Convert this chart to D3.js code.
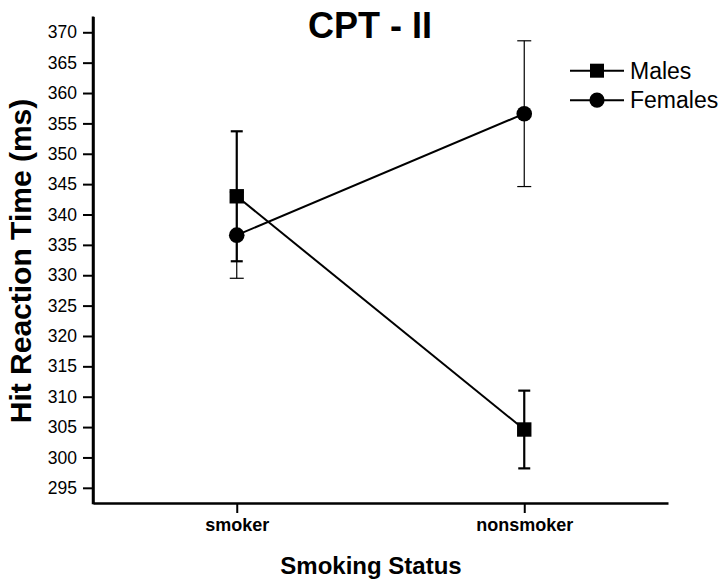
<!DOCTYPE html>
<html>
<head>
<meta charset="utf-8">
<script src="https://cdn.jsdelivr.net/npm/d3@7"></script>
<style>
  body { margin: 0; background: #fff; }
  text { font-family: "Liberation Sans", Arial, sans-serif; fill: #000; }
</style>
</head>
<body>
<svg id="chart" width="726" height="585"></svg>
<script>
const categories = ["smoker", "nonsmoker"];
const maleMeans = [343.0, 304.6];
const maleErr = [10.7, 6.4];
const femaleMeans = [336.6, 356.6];
const femaleErr = [7.1, 12.0];
const yTicks = d3.range(295, 371, 5);
const seriesNames = ["Males", "Females"];

const svg = d3.select("#chart");
const plotLeft = 93, plotRight = 668, plotTop = 16.5, plotBottom = 503;

const x = d3.scalePoint().domain(categories).range([plotLeft, plotRight]).padding(0.5);
const y = d3.scaleLinear().domain([292.5, 372.6]).range([plotBottom, plotTop]);

// axes
const yAxis = svg.append("g")
  .attr("transform", "translate(" + plotLeft + ",0)")
  .call(d3.axisLeft(y).tickValues(yTicks).tickSize(10).tickPadding(6).tickSizeOuter(0));
yAxis.selectAll("text").style("font-size", "17.5px");

const xAxis = svg.append("g")
  .attr("transform", "translate(0," + plotBottom + ")")
  .call(d3.axisBottom(x).tickSize(10).tickPadding(5).tickSizeOuter(0));
xAxis.selectAll("text").style("font-size", "18px").style("font-weight", "bold");

svg.selectAll(".domain").attr("stroke", "#000").attr("stroke-width", 2.5);
svg.selectAll(".tick line").attr("stroke", "#000").attr("stroke-width", 2);

// extend y domain line to meet the x axis at the corner
svg.append("line").attr("x1", plotLeft).attr("x2", plotLeft).attr("y1", plotTop).attr("y2", plotBottom + 1.2)
  .attr("stroke", "#000").attr("stroke-width", 2.5);

const series = [
  { name: "Females", means: femaleMeans, err: femaleErr, shape: "circle", ew: 1.2, cap: 7 },
  { name: "Males", means: maleMeans, err: maleErr, shape: "square", ew: 2.2, cap: 6 }
];

const line = d3.line().x((d, i) => x(categories[i])).y(d => y(d));

series.forEach(s => {
  const g = svg.append("g");
  g.append("path")
    .attr("d", line(s.means))
    .attr("fill", "none").attr("stroke", "#000").attr("stroke-width", 2);

  s.means.forEach((m, i) => {
    const cx = x(categories[i]);
    const lo = y(m - s.err[i]), hi = y(m + s.err[i]);
    g.append("line").attr("x1", cx).attr("x2", cx).attr("y1", lo).attr("y2", hi)
      .attr("stroke", "#000").attr("stroke-width", s.ew);
    [lo, hi].forEach(yy => {
      g.append("line").attr("x1", cx - s.cap).attr("x2", cx + s.cap).attr("y1", yy).attr("y2", yy)
        .attr("stroke", "#000").attr("stroke-width", s.ew);
    });
    if (s.shape === "circle") {
      g.append("circle").attr("cx", cx).attr("cy", y(m)).attr("r", 7.8).attr("fill", "#000");
    } else {
      g.append("rect").attr("x", cx - 7.2).attr("y", y(m) - 7.2)
        .attr("width", 14.4).attr("height", 14.4).attr("fill", "#000");
    }
  });
});

// legend
const legend = svg.append("g").attr("transform", "translate(570,70.7)");
seriesNames.forEach((name, i) => {
  const ly = i * 29.5;
  legend.append("line").attr("x1", 0).attr("x2", 54).attr("y1", ly).attr("y2", ly)
    .attr("stroke", "#000").attr("stroke-width", 2);
  if (name === "Males") {
    legend.append("rect").attr("x", 27 - 7).attr("y", ly - 7).attr("width", 14).attr("height", 14).attr("fill", "#000");
  } else {
    legend.append("circle").attr("cx", 27).attr("cy", ly).attr("r", 7.6).attr("fill", "#000");
  }
  legend.append("text").attr("x", 60).attr("y", ly).attr("dy", "0.36em")
    .style("font-size", "23px").text(name);
});

// titles
svg.append("text").attr("x", 370).attr("y", 38).attr("text-anchor", "middle")
  .style("font-size", "36px").style("font-weight", "bold").text("CPT - II");

svg.append("text").attr("x", 371).attr("y", 574).attr("text-anchor", "middle")
  .style("font-size", "24px").style("font-weight", "bold").text("Smoking Status");

svg.append("text")
  .attr("transform", "translate(31,261) rotate(-90)")
  .attr("text-anchor", "middle")
  .style("font-size", "30px").style("font-weight", "bold").text("Hit Reaction Time (ms)");
</script>
</body>
</html>
